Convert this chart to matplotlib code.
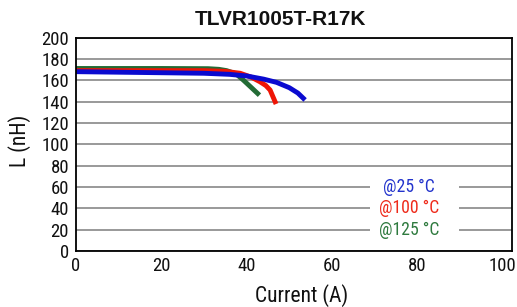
import matplotlib
matplotlib.use("Agg")
import matplotlib.pyplot as plt
from matplotlib import font_manager

names = {f.name for f in font_manager.fontManager.ttflist}
cond = next((n for n in ["Roboto Condensed", "Archivo Narrow", "PT Sans Narrow",
                         "Liberation Sans Narrow", "Pragati Narrow", "Fira Sans Condensed"]
             if n in names), "DejaVu Sans")
plt.rcParams['font.family'] = [cond, 'DejaVu Sans']

# Data (Current A, Inductance nH)
i25 = [0, 10, 20, 30, 36, 40, 44, 47, 50, 52, 53.7]
l25 = [168, 167.5, 167, 166.5, 165.5, 164, 161, 158, 153, 148, 141.5]
i100 = [0, 10, 20, 30, 35, 38.5, 41, 43.1, 44.5, 45.5, 46.9]
l100 = [169, 169, 169, 169, 168.3, 166.5, 163, 158.6, 155, 150.8, 137.7]
i125 = [0, 10, 20, 31, 33.5, 35.3, 37.5, 39.2, 41, 43]
l125 = [171, 171, 171, 170.8, 170.2, 169, 166, 160.2, 153.5, 146]

series = [(i25, l25, "#0a0ad0", "#2233cc", "@25 °C", 60),
          (i100, l100, "#ee1505", "#ee2a1a", "@100 °C", 40),
          (i125, l125, "#236b35", "#2e7a3e", "@125 °C", 20)]

fig = plt.figure(figsize=(5.17, 3.07), dpi=100)
ax = fig.add_axes([0.147, 0.1824, 0.8433, 0.6954])
ax.set_xlim(0, 102.2)
ax.set_ylim(0, 200)
ax.set_xticks(range(0, 101, 20))
ax.set_yticks(range(0, 201, 20))
ax.grid(axis='y', color='#888888', linewidth=1.2)
ax.set_axisbelow(True)
ax.tick_params(length=0, labelsize=13.5, labelcolor='#111111')
ax.tick_params(axis='x', pad=4.5)
ax.tick_params(axis='y', pad=5)
for s in ax.spines.values():
    s.set_linewidth(1.3)
    s.set_color('black')

ax.fill_between([68.9, 89.8], 12, 68, color='white', zorder=1, linewidth=0)
for x, y, c, tc, lab, ly in series[::-1]:
    ax.plot(x, y, color=c, linewidth=3.5, solid_capstyle='butt', zorder=2)
for x, y, c, tc, lab, ly in series:
    ax.text(78, ly, lab, color=tc, fontsize=12.7, ha='center', va='center', zorder=3)

fig.text(301.5 / 517, 1 - 301.5 / 307, "Current (A)", fontsize=15.5, color='#111111',
         ha='center', va='baseline')
fig.text(19.5 / 517, 1 - 141 / 307, "L (nH)", fontsize=15.5, color='#111111',
         ha='center', va='center', rotation=90)
fig.text(280.5 / 517, 1 - 19.5 / 307, "TLVR1005T-R17K", fontsize=15, fontweight='bold',
         family=['Liberation Sans', 'DejaVu Sans'], ha='center', va='center', color='#111111')
fig.savefig("out.png", dpi=100)
